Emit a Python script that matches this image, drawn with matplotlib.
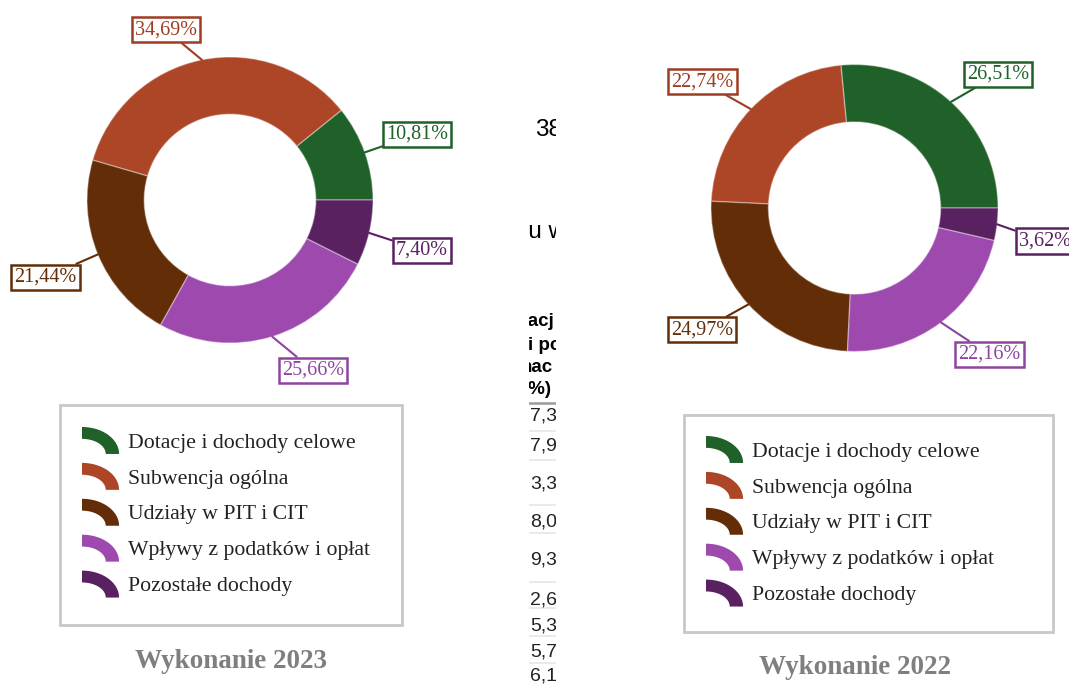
import numpy as np
import matplotlib
matplotlib.use('Agg')
import matplotlib.pyplot as plt
from matplotlib.patches import Polygon, Rectangle, Wedge
from matplotlib.legend_handler import HandlerPatch

plt.rcParams['font.family'] = ['Liberation Serif', 'DejaVu Serif']

# dane
categories = ['Dotacje i dochody celowe', 'Subwencja ogólna', 'Udziały w PIT i CIT',
              'Wpływy z podatków i opłat', 'Pozostałe dochody']
share_2023 = [10.81, 34.69, 21.44, 25.66, 7.40]
share_2022 = [26.51, 22.74, 24.97, 22.16, 3.62]
titles = ['Wykonanie 2023', 'Wykonanie 2022']

slice_colors = ['#1f6129', '#ad4527', '#622d07', '#9d49ad', '#5a2160']
label_colors = ['#1f6129', '#a03c22', '#622d07', '#8e44a0', '#5a2160']

# fragmenty tabeli widoczne w tle (środek)
frag_top = ['38', 'czu w']
frag_head = ['otacj', 'i po', 'nac', '(%)']
frag_nums = ['7,35', '7,96', '3,31', '8,02', '9,34', '2,67', '5,38', '5,72', '6,10']

# układ (piksele)
W, H = 1069, 684


def fig_box(x0, y0, x1, y1):
    return [x0 / W, 1 - y1 / H, (x1 - x0) / W, (y1 - y0) / H]


# pozycje etykiet w promieniach względem środka
label_pos_2023 = [(1.31, 0.46), (-0.45, 1.19), (-1.29, -0.54), (0.58, -1.19), (1.34, -0.35)]
label_pos_2022 = [(1.0, 0.93), (-1.06, 0.88), (-1.06, -0.85), (0.94, -1.02), (1.325, -0.23)]


class HandlerArc(HandlerPatch):
    # ćwiartka pierścienia jako znacznik legendy
    def create_artists(self, legend, orig_handle, xdescent, ydescent, width, height,
                       fontsize, trans):
        cx, cy = -xdescent, -ydescent
        t = np.linspace(np.pi / 2, 0, 30)
        outer = np.column_stack([cx + width * np.cos(t), cy + height * np.sin(t)])
        inner = np.column_stack([cx + width * 0.64 * np.cos(t[::-1]),
                                 cy + height * 0.56 * np.sin(t[::-1])])
        p = Polygon(np.vstack([outer, inner]), closed=True,
                    facecolor=orig_handle.get_facecolor(), edgecolor='none',
                    transform=trans)
        return [p]


fig = plt.figure(figsize=(W / 100, H / 100), dpi=100)

overlay = fig.add_axes([0, 0, 1, 1])
overlay.set_xlim(0, W)
overlay.set_ylim(H, 0)
overlay.axis('off')


def donut(box, values, label_pos):
    ax = fig.add_axes(box)
    wedges, _ = ax.pie(values, colors=slice_colors, startangle=0, counterclock=True,
                       radius=1, wedgeprops=dict(width=0.4, edgecolor=(1, 1, 1, 0.35),
                                                 linewidth=1))
    ax.set_xlim(-1, 1)
    ax.set_ylim(-1, 1)
    ax.set_aspect('equal')
    ax.axis('off')
    for w, v, pos, c in zip(wedges, values, label_pos, label_colors):
        ang = np.deg2rad((w.theta1 + w.theta2) / 2)
        txt = f'{v:.2f}'.replace('.', ',') + '%'
        ax.annotate(txt, xy=(np.cos(ang), np.sin(ang)), xytext=pos,
                    ha='center', va='center', color=c, fontsize=14.5,
                    bbox=dict(boxstyle='square,pad=0.15', fc='white', ec=c, lw=1.8),
                    arrowprops=dict(arrowstyle='-', color=c, lw=1.5,
                                    shrinkA=0, shrinkB=0),
                    annotation_clip=False)
    return wedges


wedges_l = donut(fig_box(87, 57, 373, 343), share_2023, label_pos_2023)
wedges_r = donut(fig_box(711, 64.5, 998, 351.5), share_2022, label_pos_2022)

# legendy
for wedges, frame, anchor in [(wedges_l, (60, 405, 402, 625), (82, 427)),
                              (wedges_r, (684, 415, 1053, 632), (706, 436))]:
    x0, y0, x1, y1 = frame
    overlay.add_patch(Rectangle((x0, y0), x1 - x0, y1 - y0, fill=False,
                                ec='#c8c8c8', lw=2))
    fig.legend(wedges, categories, loc='upper left',
               bbox_to_anchor=(anchor[0] / W, 1 - anchor[1] / H),
               frameon=False, fontsize=15.7, borderpad=0, borderaxespad=0,
               handlelength=1.7, handleheight=1.525, handletextpad=0.42,
               labelspacing=0.41, handler_map={Wedge: HandlerArc()},
               labelcolor='#222222')

overlay.text(231, 662, titles[0], ha='center', va='center', fontsize=19.5,
             fontweight='bold', color='#7f7f7f')
overlay.text(855, 668, titles[1], ha='center', va='center', fontsize=19.5,
             fontweight='bold', color='#7f7f7f')

# ucięta tabela w tle
axf = fig.add_axes(fig_box(529, 95, 556, 684))
axf.set_xlim(529, 556)
axf.set_ylim(684, 95)
axf.axis('off')
sans = ['Liberation Sans', 'DejaVu Sans']
axf.text(535, 130, frag_top[0], family=sans, fontsize=17.5, va='center', clip_on=True)
axf.text(504, 232, frag_top[1], family=sans, fontsize=17.5, va='center', clip_on=True)
for y, s, x in zip([322, 346, 368, 390], frag_head, [510, 528, 521, 522]):
    axf.text(x, y, s, family=sans, fontsize=13.5, fontweight='bold', va='center',
             clip_on=True)
axf.axhline(403, color='#9a9a9a', lw=1.8)
for y, s in zip([416, 446, 484, 522, 560, 600, 626, 652, 676], frag_nums):
    axf.text(530, y, s, family=sans, fontsize=14, va='center', color='#222222',
             clip_on=True)
for y in [431, 460, 505, 533, 582, 608, 636, 663]:
    axf.axhline(y, color='#e6e6e6', lw=1.2)

fig.savefig('out.png', dpi=100)
